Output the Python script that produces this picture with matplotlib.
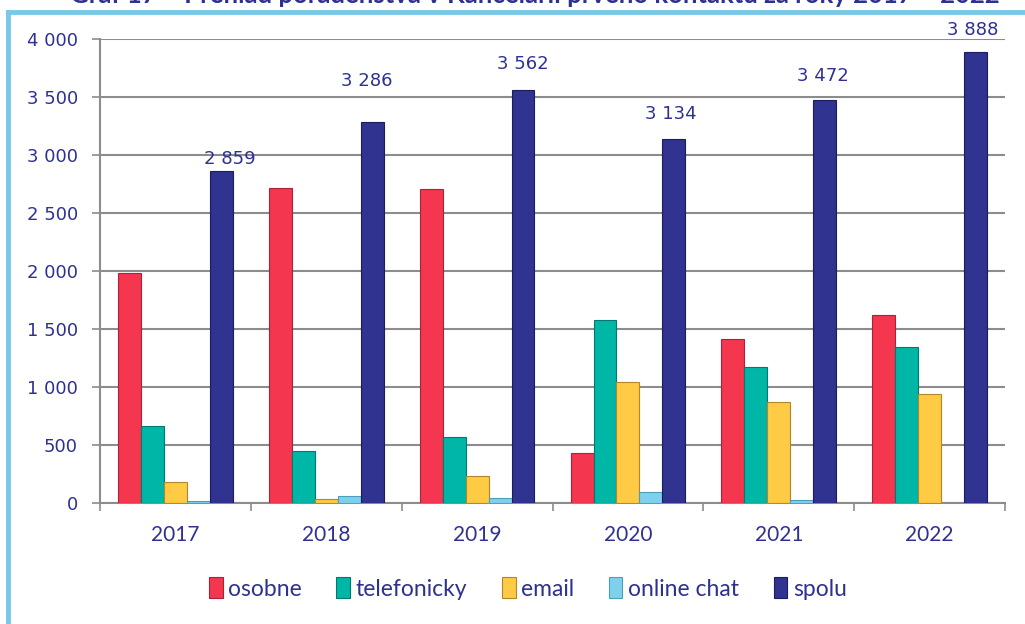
import matplotlib
matplotlib.use("Agg")
import matplotlib.pyplot as plt
import numpy as np
from matplotlib.lines import Line2D
from matplotlib.patches import Patch
from matplotlib.ticker import FuncFormatter, MultipleLocator

# data
years = ["2017", "2018", "2019", "2020", "2021", "2022"]
osobne = [1985, 2715, 2705, 430, 1415, 1620]
telefonicky = [665, 450, 565, 1575, 1170, 1345]
email = [182, 34, 234, 1040, 870, 935]
online_chat = [18, 60, 44, 88, 26, 0]
spolu = [2859, 3286, 3562, 3134, 3472, 3888]

series_names = ["osobne", "telefonicky", "email", "online chat", "spolu"]
series = [osobne, telefonicky, email, online_chat, spolu]
colors = ["#F4364F", "#00B6A6", "#FFCA44", "#7ED0EC", "#30338F"]
edges = ["#A9243A", "#00796F", "#B3862A", "#4C9EBB", "#1C1E5C"]

# label offsets above the "spolu" bars (points), as placed in the original
label_dx = [6, -4, 0, -2, -1, -2]
label_dy = [2, 23, 12, 12, 11, 9]

text_col = "#2E3192"
grid_col = "#8C8C8C"

fig = plt.figure(figsize=(10.25, 6.24), dpi=100)
ax = fig.add_axes([0.0976, 0.1944, 0.8829, 0.7431])

x = np.arange(len(years))
w = 0.152
for i, (name, vals) in enumerate(zip(series_names, series)):
    off = (i - 2) * w
    ax.bar(x + off, vals, width=w, color=colors[i], edgecolor=edges[i],
           linewidth=0.8, label=name, zorder=3)

for xi, v, dx, dy in zip(x, spolu, label_dx, label_dy):
    ax.annotate(f"{v:,}".replace(",", " "), (xi + 2 * w, v),
                xytext=(dx, dy), textcoords="offset points",
                ha="center", va="bottom", fontsize=13, color=text_col,
                family="DejaVu Sans", annotation_clip=False)

ax.set_xlim(-0.5, len(years) - 0.5)
ax.set_ylim(0, 4000)
ax.yaxis.set_major_locator(MultipleLocator(500))
ax.yaxis.set_major_formatter(FuncFormatter(lambda v, p: f"{int(v):,}".replace(",", " ")))
ax.grid(axis="y", color=grid_col, linewidth=1.5, zorder=0)

ax.set_xticks(x)
ax.set_xticklabels(years)
ax.set_xticks(np.arange(len(years) + 1) - 0.5, minor=True)
ax.tick_params(axis="x", which="major", length=0, pad=16, labelsize=15, labelcolor=text_col)
ax.tick_params(axis="x", which="minor", length=6, width=1.2, color=grid_col)
ax.tick_params(axis="y", length=6, width=1.2, color=grid_col, pad=10,
               labelsize=13, labelcolor=text_col)
for lab in ax.get_yticklabels():
    lab.set_family("DejaVu Sans")
for lab in ax.get_xticklabels():
    lab.set_family("Lato")

for s in ["top", "right"]:
    ax.spines[s].set_visible(False)
for s in ["left", "bottom"]:
    ax.spines[s].set_color(grid_col)
    ax.spines[s].set_linewidth(1.5)

handles = [Patch(facecolor=c, edgecolor=e, linewidth=0.8) for c, e in zip(colors, edges)]
leg = fig.legend(handles, series_names, loc="center", bbox_to_anchor=(0.515, 0.057),
                 ncol=5, frameon=False, handlelength=0.6, handleheight=1.05,
                 handletextpad=0.25, columnspacing=1.5,
                 prop={"family": "Lato", "size": 16.5})
for t in leg.get_texts():
    t.set_color(text_col)

# light blue frame (top and left edges visible)
fig.add_artist(Line2D([0.008, 0.008], [0, 0.981], color="#78C8E8", linewidth=3.5,
                      transform=fig.transFigure))
fig.add_artist(Line2D([0.008, 1.0], [0.981, 0.981], color="#78C8E8", linewidth=3.5,
                      transform=fig.transFigure))

# title, cut off at the top edge as in the original
fig.text(0.522, 1.008, "Graf 17 – Prehľad poradenstva v Kancelárii prvého kontaktu za roky 2017 – 2022",
         ha="center", va="center", fontsize=18.5, fontweight="bold", color=text_col,
         family="Lato")

plt.savefig("out.png", dpi=100)
